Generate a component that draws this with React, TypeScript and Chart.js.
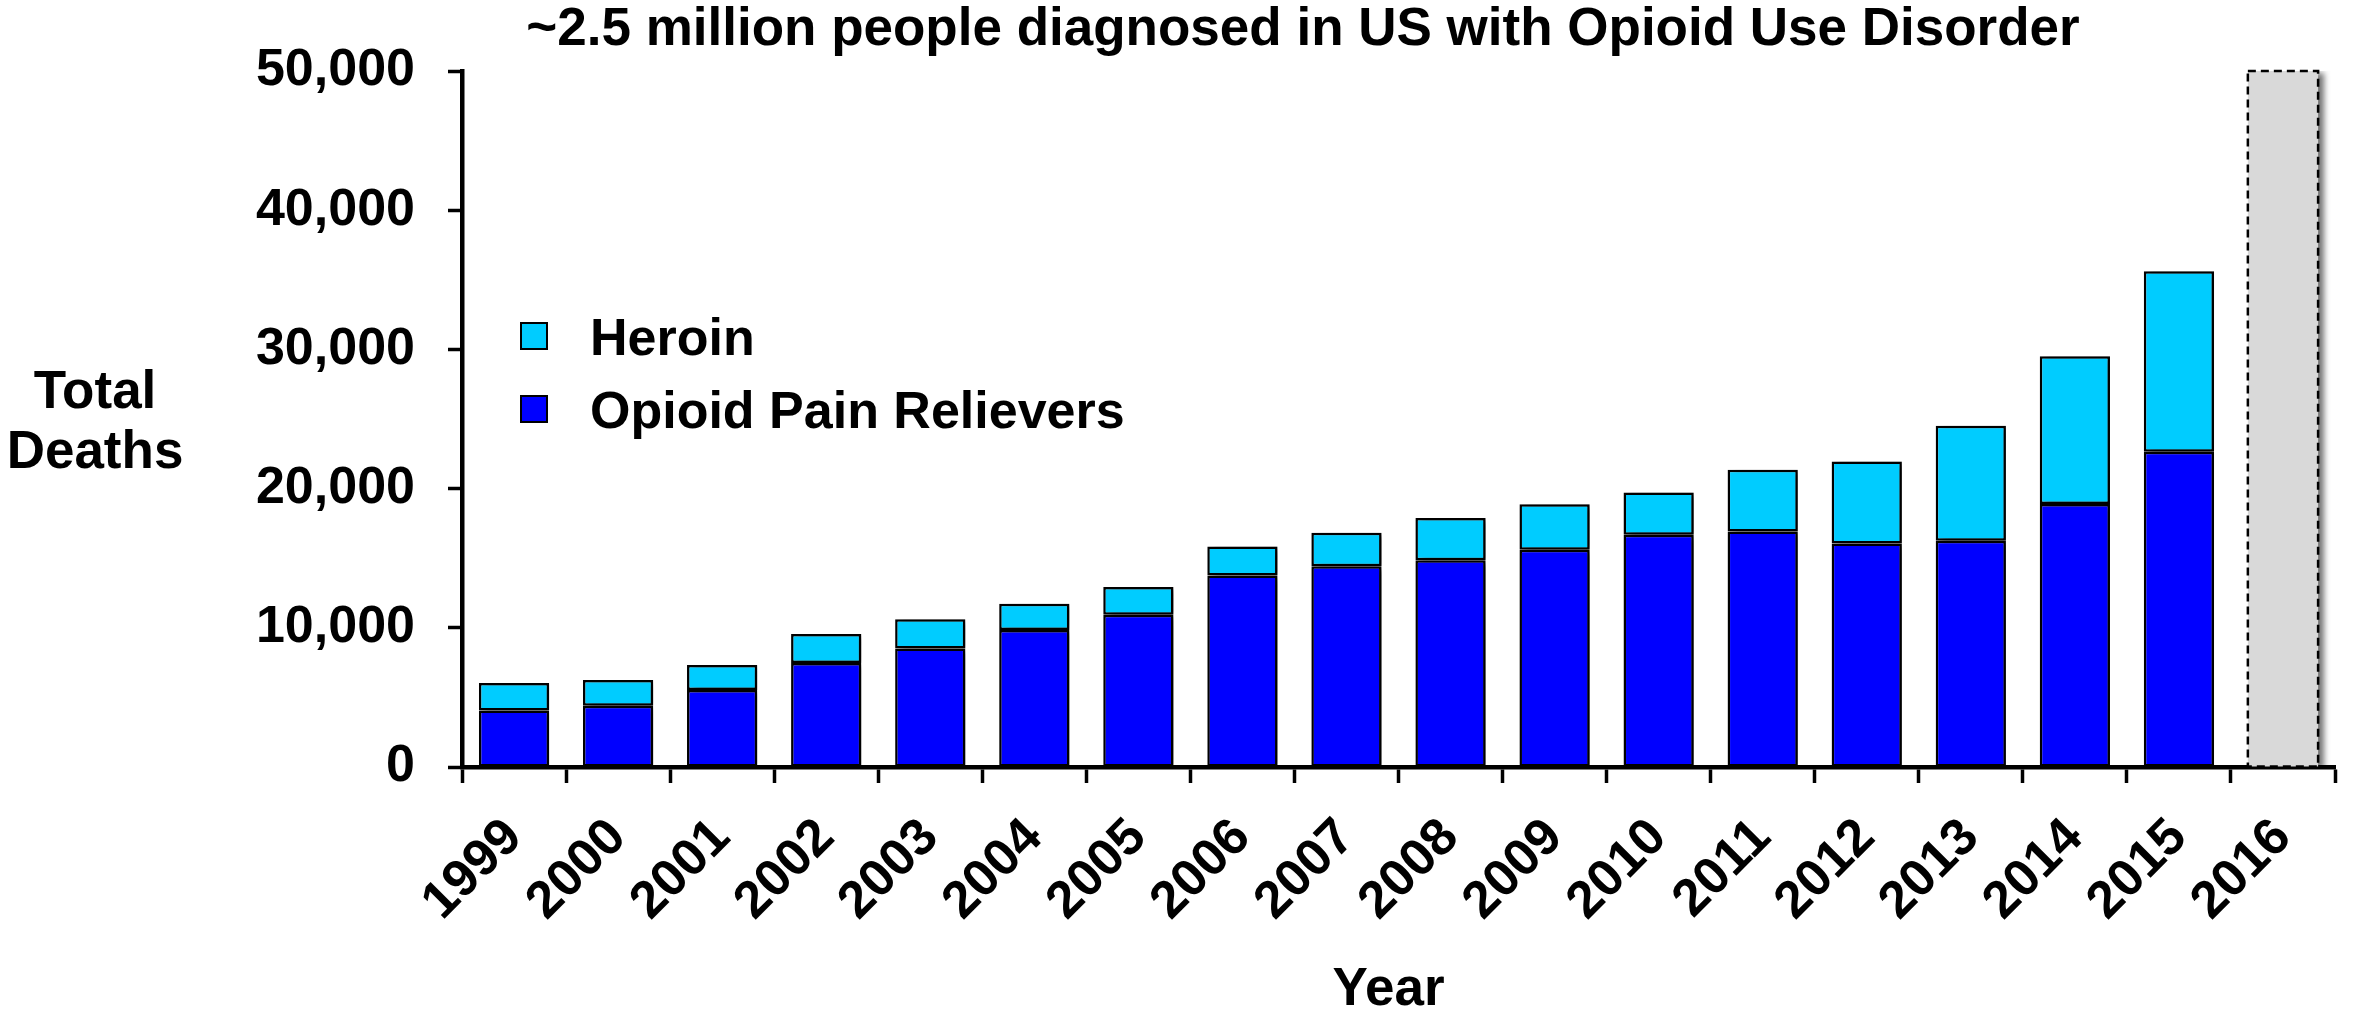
import React, { useEffect, useRef } from "react";
import { Chart, registerables } from "chart.js";

Chart.register(...registerables);

// ---- data ----
const years = [
  "1999", "2000", "2001", "2002", "2003", "2004", "2005", "2006", "2007",
  "2008", "2009", "2010", "2011", "2012", "2013", "2014", "2015", "2016",
];
const opioidPainRelievers = [
  4050, 4400, 5530, 7480, 8520, 9850, 10930, 13750, 14420,
  14850, 15600, 16680, 16920, 16050, 16260, 18900, 22650, null,
];
const heroin = [
  1990, 1850, 1800, 2080, 2100, 1870, 2010, 2090, 2400,
  3040, 3280, 3040, 4430, 5900, 8250, 10600, 12960, null,
];
const projection2016 = [
  null, null, null, null, null, null, null, null, null,
  null, null, null, null, null, null, null, null, 50000,
];
const yTicks = [0, 10000, 20000, 30000, 40000, 50000];
const titleText = "~2.5 million people diagnosed in US with Opioid Use Disorder";
const yAxisTitle = ["Total", "Deaths"];
const xAxisTitle = "Year";
const legendLabels = ["Heroin", "Opioid Pain Relievers"];

// ---- styles ----
const FONT = "'Liberation Sans', Arial, Helvetica, sans-serif";
const HEROIN_COLOR = "#00CCFF";
const OPIOID_COLOR = "#0000FF";
const PROJ_COLOR = "#D9D9D9";

const overlayPlugin = {
  id: "overlay",
  beforeDatasetsDraw(chart: any) {
    const ctx = chart.ctx;
    ctx.save();
    ctx.shadowColor = "rgba(0,0,0,0.55)";
    ctx.shadowBlur = 6;
    ctx.shadowOffsetX = 6;
    ctx.shadowOffsetY = 2;
  },
  afterDatasetsDraw(chart: any) {
    const ctx = chart.ctx;
    ctx.restore();
    const meta = chart.getDatasetMeta(2);
    meta.data.forEach((el: any, i: number) => {
      if (projection2016[i] == null) return;
      const p = el.getProps(["x", "y", "base", "width"], true);
      ctx.save();
      ctx.setLineDash([8, 5]);
      ctx.lineWidth = 2.5;
      ctx.strokeStyle = "#000";
      ctx.strokeRect(p.x - p.width / 2, p.y, p.width, p.base - p.y);
      ctx.restore();
    });
  },
  afterDraw(chart: any) {
    const ctx = chart.ctx;
    const area = chart.chartArea;
    ctx.save();
    ctx.fillStyle = "#000";
    // title
    ctx.font = `bold 53px ${FONT}`;
    ctx.textAlign = "center";
    ctx.textBaseline = "alphabetic";
    ctx.fillText(titleText, 1303, 45);
    // y axis title
    ctx.fillText(yAxisTitle[0], 95, 408);
    ctx.fillText(yAxisTitle[1], 95, 468);
    // x axis title
    ctx.fillText(xAxisTitle, (area.left + area.right) / 2 - 10, 1005);
    // legend
    const items = [
      { label: legendLabels[0], color: HEROIN_COLOR, cy: 336 },
      { label: legendLabels[1], color: OPIOID_COLOR, cy: 409 },
    ];
    ctx.textAlign = "left";
    items.forEach((it) => {
      ctx.fillStyle = it.color;
      ctx.fillRect(521, it.cy - 13, 26, 26);
      ctx.lineWidth = 2;
      ctx.strokeStyle = "#000";
      ctx.strokeRect(521, it.cy - 13, 26, 26);
      ctx.fillStyle = "#000";
      ctx.font = `bold 52px ${FONT}`;
      ctx.fillText(it.label, 590, it.cy + 19);
    });
    ctx.restore();
  },
};

export default function App() {
  const canvasRef = useRef<HTMLCanvasElement | null>(null);

  useEffect(() => {
    if (!canvasRef.current) return;
    const chart = new Chart(canvasRef.current, {
      type: "bar",
      data: {
        labels: years,
        datasets: [
          {
            label: legendLabels[1],
            data: opioidPainRelievers,
            backgroundColor: OPIOID_COLOR,
            borderColor: "#000",
            borderWidth: 2.5,
            borderSkipped: false,
            stack: "s",
          },
          {
            label: legendLabels[0],
            data: heroin,
            backgroundColor: HEROIN_COLOR,
            borderColor: "#000",
            borderWidth: 2.5,
            borderSkipped: false,
            stack: "s",
          },
          {
            label: "2016",
            data: projection2016,
            backgroundColor: PROJ_COLOR,
            borderWidth: 0,
            stack: "s",
          },
        ],
      },
      options: {
        responsive: false,
        devicePixelRatio: 1,
        animation: false,
        layout: { padding: { top: 71, right: 19, left: 0, bottom: 0 } },
        datasets: {
          bar: { barPercentage: 0.675, categoryPercentage: 1 },
        },
        plugins: {
          legend: { display: false },
          title: { display: false },
          tooltip: { enabled: false },
        },
        scales: {
          x: {
            stacked: true,
            offset: true,
            z: 1,
            grid: {
              offset: true,
              drawOnChartArea: false,
              drawTicks: true,
              tickLength: 16,
              tickWidth: 3.5,
              tickColor: "#000",
              color: "#000",
            },
            border: { display: true, color: "#000", width: 4.5 },
            ticks: {
              autoSkip: false,
              minRotation: 45,
              maxRotation: 45,
              padding: 24,
              color: "#000",
              font: { family: FONT, size: 52, weight: "bold" },
            },
            afterFit: (scale: any) => {
              scale.height = 243;
            },
          },
          y: {
            stacked: true,
            min: 0,
            max: 50000,
            z: 1,
            grid: {
              drawOnChartArea: false,
              drawTicks: true,
              tickLength: 14,
              tickWidth: 3.5,
              tickColor: "#000",
              color: "#000",
            },
            border: { display: true, color: "#000", width: 4.5 },
            afterBuildTicks: (scale: any) => {
              scale.ticks = yTicks.map((v) => ({ value: v }));
            },
            ticks: {
              padding: 33,
              color: "#000",
              font: { family: FONT, size: 52, weight: "bold" },
              callback: (v: any) => Number(v).toLocaleString("en-US"),
            },
            afterFit: (scale: any) => {
              scale.width = 462;
            },
          },
        },
      },
      plugins: [overlayPlugin],
    });
    return () => chart.destroy();
  }, []);

  return (
    <div
      style={{
        position: "absolute",
        left: 0,
        top: 0,
        width: 2354,
        height: 1010,
        background: "#fff",
      }}
    >
      <canvas ref={canvasRef} width={2354} height={1010} />
    </div>
  );
}
